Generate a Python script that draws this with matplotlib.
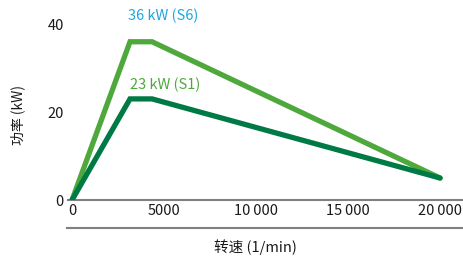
import matplotlib
matplotlib.use("Agg")
import matplotlib.pyplot as plt
from matplotlib.lines import Line2D

plt.rcParams['font.family'] = ['Noto Sans CJK SC', 'DejaVu Sans']

# data
speed_s6 = [0, 3150, 4350, 20000]
power_s6 = [0, 36, 36, 5]
speed_s1 = [0, 3150, 4350, 20000]
power_s1 = [0, 23, 23, 5]
xticks = [0, 5000, 10000, 15000, 20000]
xtick_labels = ["0", "5000", "10\u2009000", "15\u2009000", "20\u2009000"]
yticks = [0, 20, 40]

LIGHT = "#4ea83c"
DARK = "#007a45"
BLUE = "#1ea5e0"
AXIS = "#808080"
TXT = "#1a1a1a"

fig = plt.figure(figsize=(4.64, 2.59), dpi=100)
ax = fig.add_axes([68 / 464, 59 / 259, 396 / 464, 200 / 259])

ax.plot(speed_s6, power_s6, color=LIGHT, lw=3.8, solid_capstyle="round",
        solid_joinstyle="miter", zorder=3)
ax.plot(speed_s1, power_s1, color=DARK, lw=3.8, solid_capstyle="round",
        solid_joinstyle="miter", zorder=4)

ax.set_xlim(-220, 21300)
ax.set_ylim(0, 45.5)

ax.text(3050, 41.8, "36 kW (S6)", color=BLUE, fontsize=10.5, va="center", ha="left")
ax.text(3150, 26.1, "23 kW (S1)", color=LIGHT, fontsize=10.5, va="center", ha="left")

for s in ["top", "right", "left"]:
    ax.spines[s].set_visible(False)
ax.spines["bottom"].set_color(AXIS)
ax.spines["bottom"].set_linewidth(1.5)

ax.set_xticks(xticks)
ax.set_xticklabels(xtick_labels)
ax.set_yticks(yticks)
ax.tick_params(axis="both", length=0, labelsize=10.5, colors=TXT)
ax.tick_params(axis="x", pad=3)
ax.tick_params(axis="y", pad=3)

# second rule below the tick labels
fig.add_artist(Line2D([67 / 464, 1.0], [1 - 228 / 259, 1 - 228 / 259],
                      color=AXIS, lw=1.5))

fig.text(255 / 464, 1 - 247 / 259, "转速 (1/min)", ha="center", va="center",
         fontsize=10.5, color=TXT)
fig.text(18 / 464, 1 - 115 / 259, "功率 (kW)", ha="center", va="center",
         rotation=90, fontsize=10, color=TXT)

fig.savefig("out.png", dpi=100, facecolor="white")
